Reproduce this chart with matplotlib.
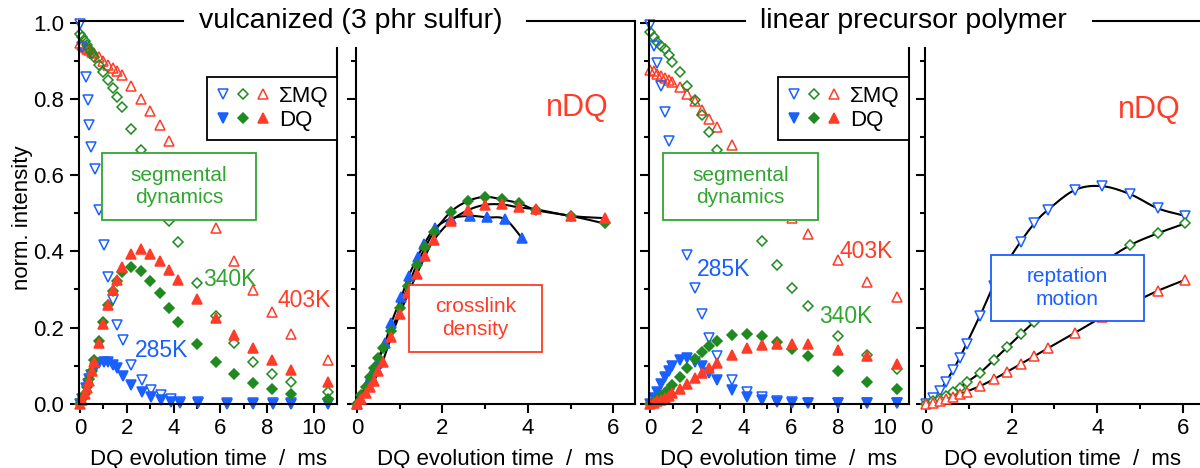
import numpy as np
import matplotlib
matplotlib.use("Agg")
import matplotlib.pyplot as plt
from matplotlib.patches import Rectangle
from matplotlib.legend_handler import HandlerTuple

plt.rcParams['font.family'] = ['Liberation Sans', 'DejaVu Sans']

BLUE = '#1a5fff'
GREEN = '#1f8a1f'
RED = '#ff3c28'
TXT_GREEN = '#30a530'

# ---------------- vulcanized (3 phr sulfur) ----------------
# 285 K
t_v285 = [0, 0.07, 0.26, 0.33, 0.4, 0.47, 0.66, 0.8, 1.04, 1.21, 1.42, 1.57, 1.82,
          2.2, 2.64, 3.05, 3.47, 3.87, 4.27, 5.03, 6.27, 7.39, 8.25, 9.02, 10.6]
mq_v285 = [0.997, 0.937, 0.858, 0.797, 0.731, 0.675, 0.615, 0.508, 0.416, 0.333, 0.272,
           0.206, 0.167, 0.101, 0.062, 0.037, 0.022, 0.012, 0.005, 0.004, 0.003, 0.003,
           0.003, 0.003, 0.002]
dq_v285 = [0.0, 0.012, 0.04, 0.052, 0.064, 0.075, 0.095, 0.106, 0.110, 0.109, 0.101,
           0.094, 0.074, 0.05, 0.031, 0.018, 0.009, 0.004, 0.002, 0.001, 0.0, 0.0, 0.0, 0.0, 0.0]
tn_v285 = [0, 0.07, 0.26, 0.33, 0.4, 0.47, 0.66, 0.8, 1.04, 1.21, 1.42, 1.57, 1.82,
           2.2, 2.64, 3.05, 3.47, 3.87]
ndq_v285 = [0.0, 0.015, 0.058, 0.075, 0.09, 0.106, 0.16, 0.211, 0.28, 0.335, 0.385,
            0.418, 0.46, 0.486, 0.493, 0.489, 0.484, 0.434]

# 340 K and 403 K share the time grid
t_v = [0, 0.1, 0.2, 0.3, 0.4, 0.5, 0.6, 0.8, 1.0, 1.2, 1.4, 1.6, 1.8, 2.2, 2.6, 3.0,
       3.4, 3.8, 4.2, 5.0, 5.8, 6.6, 7.4, 8.2, 9.0, 10.6]
mq_v340 = [0.970, 0.962, 0.952, 0.942, 0.932, 0.921, 0.91, 0.89, 0.87, 0.85, 0.828,
           0.804, 0.778, 0.72, 0.665, 0.61, 0.545, 0.48, 0.425, 0.318, 0.23, 0.16, 0.11,
           0.078, 0.058, 0.03]
dq_v340 = [0.0, 0.012, 0.025, 0.045, 0.065, 0.085, 0.115, 0.165, 0.215, 0.26, 0.297,
           0.322, 0.345, 0.36, 0.348, 0.323, 0.29, 0.252, 0.215, 0.156, 0.11, 0.078,
           0.054, 0.038, 0.026, 0.012]
mq_v403 = [0.946, 0.942, 0.937, 0.932, 0.928, 0.924, 0.92, 0.91, 0.90, 0.89, 0.882,
           0.873, 0.864, 0.834, 0.80, 0.768, 0.731, 0.69, 0.64, 0.55, 0.46, 0.374, 0.298,
           0.24, 0.183, 0.115]
dq_v403 = [0.0, 0.01, 0.025, 0.04, 0.06, 0.085, 0.11, 0.16, 0.208, 0.259, 0.298, 0.326,
           0.36, 0.394, 0.405, 0.394, 0.375, 0.35, 0.325, 0.274, 0.224, 0.18, 0.145,
           0.115, 0.088, 0.058]
tn_v = [0, 0.1, 0.2, 0.3, 0.4, 0.5, 0.6, 0.8, 1.0, 1.2, 1.4, 1.6, 1.8, 2.2, 2.6, 3.0,
        3.4, 3.8, 4.2, 5.0, 5.8]
ndq_v340 = [0.0, 0.022, 0.045, 0.07, 0.095, 0.12, 0.145, 0.19, 0.25, 0.31, 0.365, 0.41,
            0.45, 0.504, 0.532, 0.543, 0.536, 0.526, 0.508, 0.493, 0.473]
ndq_v403 = [0.0, 0.012, 0.028, 0.045, 0.06, 0.085, 0.11, 0.175, 0.235, 0.29, 0.34,
            0.388, 0.43, 0.48, 0.508, 0.522, 0.523, 0.515, 0.51, 0.493, 0.487]

# ---------------- linear precursor polymer ----------------
t_l = [0, 0.16, 0.32, 0.47, 0.63, 0.79, 0.95, 1.26, 1.58, 1.9, 2.21, 2.53, 2.84, 3.48,
       4.11, 4.77, 5.41, 6.05, 6.71, 8.01, 9.22, 10.5]
mq_l285 = [0.995, 0.94, 0.893, 0.835, 0.765, 0.69, 0.625, 0.495, 0.39, 0.305, 0.235,
           0.172, 0.126, 0.062, 0.032, 0.017, 0.008, 0.005, 0.003, 0.002, 0.002, 0.002]
dq_l285 = [0.0, 0.015, 0.032, 0.052, 0.07, 0.085, 0.098, 0.114, 0.119, 0.11, 0.098,
           0.081, 0.063, 0.035, 0.018, 0.009, 0.004, 0.0025, 0.001, 0.001, 0.001, 0.001]
mq_l340 = [0.975, 0.962, 0.95, 0.94, 0.93, 0.915, 0.898, 0.87, 0.835, 0.798, 0.757,
           0.712, 0.666, 0.575, 0.5, 0.428, 0.364, 0.305, 0.256, 0.178, 0.128, 0.09]
dq_l340 = [0.0, 0.005, 0.012, 0.019, 0.028, 0.038, 0.048, 0.07, 0.095, 0.117, 0.137,
           0.152, 0.165, 0.18, 0.183, 0.178, 0.163, 0.144, 0.125, 0.087, 0.058, 0.038]
mq_l403 = [0.875, 0.872, 0.866, 0.861, 0.855, 0.85, 0.845, 0.832, 0.812, 0.795, 0.772,
           0.748, 0.726, 0.678, 0.63, 0.58, 0.532, 0.487, 0.446, 0.377, 0.32, 0.281]
dq_l403 = [0.0, 0.003, 0.006, 0.01, 0.015, 0.021, 0.027, 0.039, 0.053, 0.067, 0.081,
           0.095, 0.107, 0.127, 0.145, 0.154, 0.157, 0.157, 0.157, 0.141, 0.125, 0.104]
tn_l = [0, 0.16, 0.32, 0.47, 0.63, 0.79, 0.95, 1.26, 1.58, 1.9, 2.21, 2.53, 2.84, 3.48,
        4.11, 4.77, 5.41, 6.05]
ndq_l285 = [0.0, 0.015, 0.034, 0.058, 0.088, 0.121, 0.158, 0.23, 0.31, 0.372, 0.425,
            0.473, 0.508, 0.561, 0.571, 0.55, 0.513, 0.493]
ndq_l340 = [0.0, 0.006, 0.013, 0.02, 0.03, 0.042, 0.056, 0.081, 0.114, 0.148, 0.182,
            0.215, 0.245, 0.31, 0.368, 0.416, 0.447, 0.473]
ndq_l403 = [0.0, 0.003, 0.007, 0.012, 0.018, 0.025, 0.032, 0.046, 0.064, 0.084, 0.104,
            0.125, 0.145, 0.186, 0.227, 0.262, 0.296, 0.325]


def smooth(x, y, n=10):
    # Catmull-Rom curve through the points, used for the black guide lines
    x = np.asarray(x, float); y = np.asarray(y, float)
    px = np.r_[2 * x[0] - x[1], x, 2 * x[-1] - x[-2]]
    py = np.r_[2 * y[0] - y[1], y, 2 * y[-1] - y[-2]]
    s = np.linspace(0, 1, n, endpoint=False)
    ox, oy = [], []
    for i in range(1, len(px) - 2):
        for p, o in ((px, ox), (py, oy)):
            p0, p1, p2, p3 = p[i - 1], p[i], p[i + 1], p[i + 2]
            o.extend(0.5 * (2 * p1 + (-p0 + p2) * s + (2 * p0 - 5 * p1 + 4 * p2 - p3) * s ** 2
                            + (-p0 + 3 * p1 - 3 * p2 + p3) * s ** 3))
    ox.append(x[-1]); oy.append(y[-1])
    return ox, oy


W, H = 1200, 468
fig = plt.figure(figsize=(12, 4.68), dpi=100)

def px_axes(left, right):
    return fig.add_axes([left / W, 64.3 / H, (right - left) / W, 382.5 / H])

ax1 = px_axes(78.8, 337.4)
ax2 = px_axes(355.7, 634.6)
ax3 = px_axes(648.8, 908.5)
ax4 = px_axes(924.7, 1201.2)

YTOP = 1.004
TOPCUT = 0.934
mk = dict(linestyle='none', clip_on=False, markeredgewidth=1.1)

def style(ax, xmax, long_x, full_left, ylabels):
    ax.set_ylim(0, YTOP)
    ax.set_xlim(-0.05 if long_x else -0.03, xmax)
    for sp in ax.spines.values():
        sp.set_linewidth(1.5)
    if long_x:
        ax.set_xticks([0, 2, 4, 6, 8, 10])
        ax.set_xticks([1, 3, 5, 7, 9], minor=True)
    else:
        ax.set_xticks([0, 2, 4, 6])
        ax.set_xticks([1, 3, 5], minor=True)
    if full_left:
        ax.set_yticks([0, 0.2, 0.4, 0.6, 0.8, 1.0])
    else:
        ax.set_yticks([0, 0.2, 0.4, 0.6, 0.8])
        ax.spines['left'].set_bounds(0, TOPCUT)
    ax.set_yticks([0.1, 0.3, 0.5, 0.7, 0.9], minor=True)
    ax.tick_params(which='major', direction='out', length=6.5, width=1.5, labelsize=16, pad=4)
    ax.tick_params(which='minor', direction='out', length=3.5, width=1.5)
    if ylabels:
        ax.set_yticklabels(['0.0', '0.2', '0.4', '0.6', '0.8', '1.0'])
    else:
        ax.tick_params(axis='y', labelleft=False)
    ax.set_xlabel('DQ evolution time  /  ms', fontsize=16, labelpad=7)


style(ax1, 11.0, True, True, True)
style(ax2, 6.5, False, False, False)
style(ax3, 11.0, True, True, False)
style(ax4, 6.43, False, False, False)

# frames: top line interrupted by the title, inner spines start lower
ax1.spines['top'].set_bounds(-0.05, 4.4)
ax1.spines['right'].set_bounds(0, TOPCUT)
ax2.spines['top'].set_bounds(3.98, 6.5)
ax3.spines['top'].set_bounds(-0.05, 4.04)
ax3.spines['right'].set_bounds(0, TOPCUT)
ax4.spines['top'].set_bounds(3.9, 6.43)
ax4.spines['right'].set_visible(False)

ax1.set_ylabel('norm. intensity', fontsize=16)
ax1.yaxis.set_label_coords(-0.177, 0.486)


def decay_panel(ax, t285, mq285, dq285, t34, mq340, dq340, mq403, dq403, box_xy):
    ms = 7
    ax.plot(t34, mq403, '^', mfc='none', mec=RED, ms=ms, **mk)
    ax.plot(t34, mq340, 'D', mfc='none', mec=GREEN, ms=5.2, **mk)
    ax.plot(t285, mq285, 'v', mfc='none', mec=BLUE, ms=ms, **mk)
    f1, = ax.plot(t285, dq285, 'v', color=BLUE, ms=ms, **mk)
    f2, = ax.plot(t34, dq340, 'D', color=GREEN, ms=5.6, **mk)
    f3, = ax.plot(t34, dq403, '^', color=RED, ms=ms, **mk)
    o1, = ax.plot([], [], 'v', mfc='none', mec=BLUE, ms=ms, markeredgewidth=1.1)
    o2, = ax.plot([], [], 'D', mfc='none', mec=GREEN, ms=5.2, markeredgewidth=1.1)
    o3, = ax.plot([], [], '^', mfc='none', mec=RED, ms=ms, markeredgewidth=1.1)
    leg = ax.legend([(o1, o2, o3), (f1, f2, f3)], ['ΣMQ', 'DQ'],
                    handler_map={tuple: HandlerTuple(ndivide=None, pad=0.2)},
                    loc='upper right', bbox_to_anchor=(1.0, 0.855), borderaxespad=0,
                    fancybox=False, edgecolor='black', framealpha=1, fontsize=16,
                    handlelength=2.5, handletextpad=0.35, borderpad=0.4,
                    labelspacing=0.15)
    leg.get_frame().set_linewidth(1.3)
    leg.set_zorder(10)
    x0, x1, y0, y1 = box_xy
    ax.add_patch(Rectangle((x0, y0), x1 - x0, y1 - y0, fc='white', ec=TXT_GREEN,
                           lw=1.3, zorder=6))
    ax.text((x0 + x1) / 2, (y0 + y1) / 2, 'segmental\ndynamics', color=TXT_GREEN,
            fontsize=15, ha='center', va='center', linespacing=1.25, zorder=7)


def ndq_panel(ax, series, open_marks):
    for t, v, m, c, s in series:
        lx, ly = smooth(t, v)
        ax.plot(lx, ly, color='black', lw=1.5, zorder=3, clip_on=False)
        if open_marks:
            ax.plot(t, v, m, mfc='white', mec=c, ms=s, zorder=4, **mk)
        else:
            ax.plot(t, v, m, color=c, ms=s, zorder=4, **mk)


decay_panel(ax1, t_v285, mq_v285, dq_v285, t_v, mq_v340, dq_v340, mq_v403, dq_v403,
            (0.94, 7.52, 0.482, 0.658))
ax1.text(6.4, 0.327, '340K', color=TXT_GREEN, fontsize=16.5, ha='center', va='center')
ax1.text(9.57, 0.27, '403K', color=RED, fontsize=16.5, ha='center', va='center')
ax1.text(3.48, 0.139, '285K', color=BLUE, fontsize=16.5, ha='center', va='center')

ndq_panel(ax2, [(tn_v285, ndq_v285, '^', BLUE, 7.5),
                (tn_v, ndq_v340, 'D', GREEN, 5.6),
                (tn_v, ndq_v403, '^', RED, 7.5)], False)
ax2.text(5.16, 0.776, 'nDQ', color=RED, fontsize=22, ha='center', va='center')
ax2.add_patch(Rectangle((1.22, 0.136), 3.11, 0.175, fc='white', ec=RED, lw=1.3, zorder=6))
ax2.text(2.78, 0.224, 'crosslink\ndensity', color=RED, fontsize=15, ha='center',
         va='center', linespacing=1.25, zorder=7)

decay_panel(ax3, t_l, mq_l285, dq_l285, t_l, mq_l340, dq_l340, mq_l403, dq_l403,
            (0.55, 7.15, 0.482, 0.658))
ax3.text(3.15, 0.351, '285K', color=BLUE, fontsize=16.5, ha='center', va='center')
ax3.text(9.19, 0.40, '403K', color=RED, fontsize=16.5, ha='center', va='center')
ax3.text(8.34, 0.228, '340K', color=TXT_GREEN, fontsize=16.5, ha='center', va='center')

ndq_panel(ax4, [(tn_l, ndq_l285, 'v', BLUE, 7),
                (tn_l, ndq_l340, 'D', GREEN, 5.2),
                (tn_l, ndq_l403, '^', RED, 7)], True)
ax4.text(5.22, 0.771, 'nDQ', color=RED, fontsize=22, ha='center', va='center')
ax4.add_patch(Rectangle((1.51, 0.218), 3.58, 0.172, fc='white', ec=BLUE, lw=1.3, zorder=6))
ax4.text(3.3, 0.304, 'reptation\nmotion', color=BLUE, fontsize=15, ha='center',
         va='center', linespacing=1.25, zorder=7)

fig.text(350.5 / W, 1 - 21 / H, 'vulcanized (3 phr sulfur)', fontsize=20.5,
         ha='center', va='center')
fig.text(913.7 / W, 1 - 21 / H, 'linear precursor polymer', fontsize=20.5,
         ha='center', va='center')

fig.savefig('out.png', dpi=100)
